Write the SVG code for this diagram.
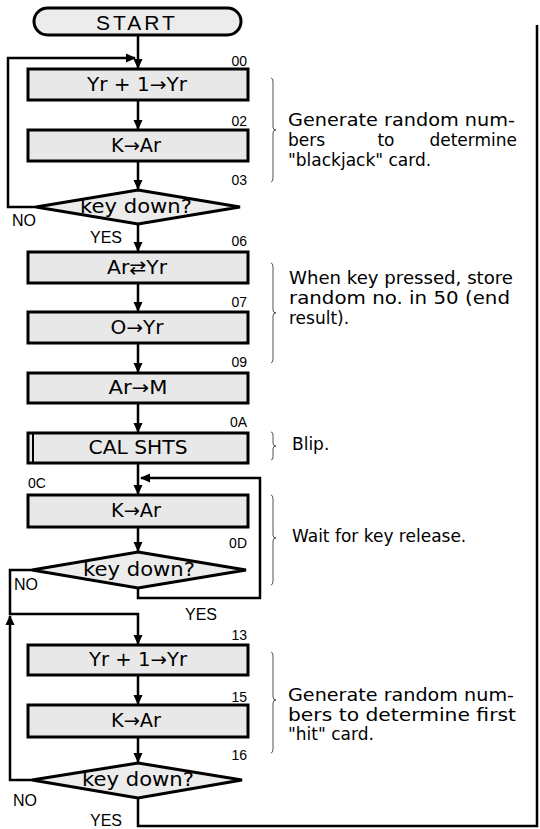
<svg xmlns="http://www.w3.org/2000/svg" width="540" height="829" viewBox="0 0 540 829">
<defs>
<marker id="ah" markerUnits="userSpaceOnUse" markerWidth="10" markerHeight="10" refX="9" refY="5" orient="auto">
<path d="M0,0.5 L10,5 L0,9.5 z" fill="#000"/>
</marker>
<style>
.box{fill:#e8e8e8;stroke:#000;stroke-width:3}
.dia{fill:#ececec;stroke:#000;stroke-width:3}
.t{font-family:"DejaVu Sans","Liberation Sans",sans-serif;font-size:19px;fill:#000;text-anchor:middle}
.lb{font-family:"Liberation Sans",Arial,sans-serif;font-size:14px;fill:#000;text-anchor:end}
.yn{font-family:"Liberation Sans",Arial,sans-serif;font-size:16px;fill:#000}
.an{font-family:"DejaVu Sans","Liberation Sans",sans-serif;font-size:17px;fill:#000}
.ln{fill:none;stroke:#000;stroke-width:2.5}
.br{fill:none;stroke:#555;stroke-width:1}
</style>
</defs>

<g id="connectors">
<path class="ln" d="M138,35 V68" marker-end="url(#ah)"/>
<path class="ln" d="M36,207 H8 V58 H135" marker-end="url(#ah)"/>
<path class="ln" d="M138,100 V129" marker-end="url(#ah)"/>
<path class="ln" d="M138,161 V189" marker-end="url(#ah)"/>
<path class="ln" d="M138,224 V251" marker-end="url(#ah)"/>
<path class="ln" d="M138,283 V311" marker-end="url(#ah)"/>
<path class="ln" d="M138,343 V372" marker-end="url(#ah)"/>
<path class="ln" d="M138,403 V432" marker-end="url(#ah)"/>
<path class="ln" d="M138,463 V494" marker-end="url(#ah)"/>
<path class="ln" d="M138,527 V551" marker-end="url(#ah)"/>
<path class="ln" d="M138,588 V598 H260 V478 H141" marker-end="url(#ah)"/>
<path class="ln" d="M32,570 H10 V614 H138 V644" marker-end="url(#ah)"/>
<path class="ln" d="M138,675 V704" marker-end="url(#ah)"/>
<path class="ln" d="M138,737 V762" marker-end="url(#ah)"/>
<path class="ln" d="M32,780 H10 V616" marker-end="url(#ah)"/>
<path class="ln" d="M138,798 V826 H537 V25"/>
</g>

<g id="start">
<rect x="34" y="8" width="207" height="27" rx="13.5" fill="#ececec" stroke="#000" stroke-width="3"/>
<text x="137" y="30" font-family="Liberation Sans,Arial,sans-serif" font-size="21" letter-spacing="3" text-anchor="middle">START</text>
</g>

<g id="n00">
<text class="lb" x="247" y="66">00</text>
<rect class="box" x="28" y="69" width="220" height="31"/>
<text class="t" x="137" y="91" textLength="100" lengthAdjust="spacingAndGlyphs">Yr + 1→Yr</text>
</g>
<g id="n02">
<text class="lb" x="247" y="126">02</text>
<rect class="box" x="28" y="130" width="220" height="31"/>
<text class="t" x="136" y="152" textLength="50" lengthAdjust="spacingAndGlyphs">K→Ar</text>
</g>
<g id="n03">
<text class="lb" x="247" y="185">03</text>
<polygon class="dia" points="138,190 240,207 138,224 36,207"/>
<text class="t" x="136" y="213" textLength="112" lengthAdjust="spacingAndGlyphs">key down?</text>
<text class="yn" x="12" y="226">NO</text>
<text class="yn" x="90" y="243">YES</text>
</g>
<g id="n06">
<text class="lb" x="247" y="246">06</text>
<rect class="box" x="28" y="252" width="220" height="31"/>
<text class="t" x="137" y="274" textLength="60" lengthAdjust="spacingAndGlyphs">Ar⇄Yr</text>
</g>
<g id="n07">
<text class="lb" x="247" y="307">07</text>
<rect class="box" x="28" y="312" width="220" height="31"/>
<text class="t" x="137" y="334" textLength="53" lengthAdjust="spacingAndGlyphs">O→Yr</text>
</g>
<g id="n09">
<text class="lb" x="247" y="367">09</text>
<rect class="box" x="28" y="373" width="220" height="30"/>
<text class="t" x="138" y="394" textLength="59" lengthAdjust="spacingAndGlyphs">Ar→M</text>
</g>
<g id="n0A">
<text class="lb" x="247" y="427">0A</text>
<rect class="box" x="28" y="433" width="220" height="30"/>
<line x1="33" y1="433" x2="33" y2="463" stroke="#000" stroke-width="2"/>
<text class="t" x="138" y="454" textLength="99" lengthAdjust="spacingAndGlyphs">CAL SHTS</text>
</g>
<g id="n0C">
<text class="lb" x="28" y="488" style="text-anchor:start">0C</text>
<rect class="box" x="28" y="495" width="220" height="32"/>
<text class="t" x="136" y="517" textLength="50" lengthAdjust="spacingAndGlyphs">K→Ar</text>
</g>
<g id="n0D">
<text class="lb" x="247" y="548">0D</text>
<polygon class="dia" points="138,552 246,570 138,588 32,570"/>
<text class="t" x="139" y="576" textLength="112" lengthAdjust="spacingAndGlyphs">key down?</text>
<text class="yn" x="14" y="590">NO</text>
<text class="yn" x="185" y="620">YES</text>
</g>
<g id="n13">
<text class="lb" x="247" y="640">13</text>
<rect class="box" x="28" y="645" width="220" height="30"/>
<text class="t" x="138" y="666" textLength="98" lengthAdjust="spacingAndGlyphs">Yr + 1→Yr</text>
</g>
<g id="n15">
<text class="lb" x="247" y="702">15</text>
<rect class="box" x="28" y="705" width="220" height="32"/>
<text class="t" x="136" y="727" textLength="50" lengthAdjust="spacingAndGlyphs">K→Ar</text>
</g>
<g id="n16">
<text class="lb" x="247" y="760">16</text>
<polygon class="dia" points="138,763 242,780 138,798 32,780"/>
<text class="t" x="138" y="786" textLength="112" lengthAdjust="spacingAndGlyphs">key down?</text>
<text class="yn" x="13" y="806">NO</text>
<text class="yn" x="90" y="826">YES</text>
</g>

<g id="notes">
<path class="br" d="M271,78 Q273,78 273,82 V127 Q273,130 276,130 Q273,130 273,133 V178 Q273,182 271,182"/>
<text class="an" x="288" y="126" textLength="227" lengthAdjust="spacingAndGlyphs">Generate random num-</text>
<text class="an" x="288" y="146">bers</text>
<text class="an" x="386" y="146" text-anchor="middle">to</text>
<text class="an" x="517" y="146" text-anchor="end">determine</text>
<text class="an" x="288" y="166">"blackjack" card.</text>

<path class="br" d="M271,263 Q273,263 273,267 V310 Q273,313 276,313 Q273,313 273,316 V359 Q273,363 271,363"/>
<text class="an" x="289" y="284" textLength="224" lengthAdjust="spacingAndGlyphs">When key pressed, store</text>
<text class="an" x="289" y="304" textLength="221" lengthAdjust="spacingAndGlyphs">random no. in 50 (end</text>
<text class="an" x="289" y="324">result).</text>

<path class="br" d="M271,432 Q273,432 273,435 V443 Q273,446 276,446 Q273,446 273,449 V457 Q273,460 271,460"/>
<text class="an" x="292" y="450">Blip.</text>

<path class="br" d="M271,495 Q273,495 273,499 V535 Q273,538 276,538 Q273,538 273,541 V581 Q273,585 271,585"/>
<text class="an" x="292" y="542">Wait for key release.</text>

<path class="br" d="M271,652 Q273,652 273,656 V697 Q273,700 276,700 Q273,700 273,703 V749 Q273,753 271,753"/>
<text class="an" x="288" y="701" textLength="226" lengthAdjust="spacingAndGlyphs">Generate random num-</text>
<text class="an" x="288" y="721" textLength="228" lengthAdjust="spacingAndGlyphs">bers to determine first</text>
<text class="an" x="288" y="740">"hit" card.</text>
</g>
</svg>
